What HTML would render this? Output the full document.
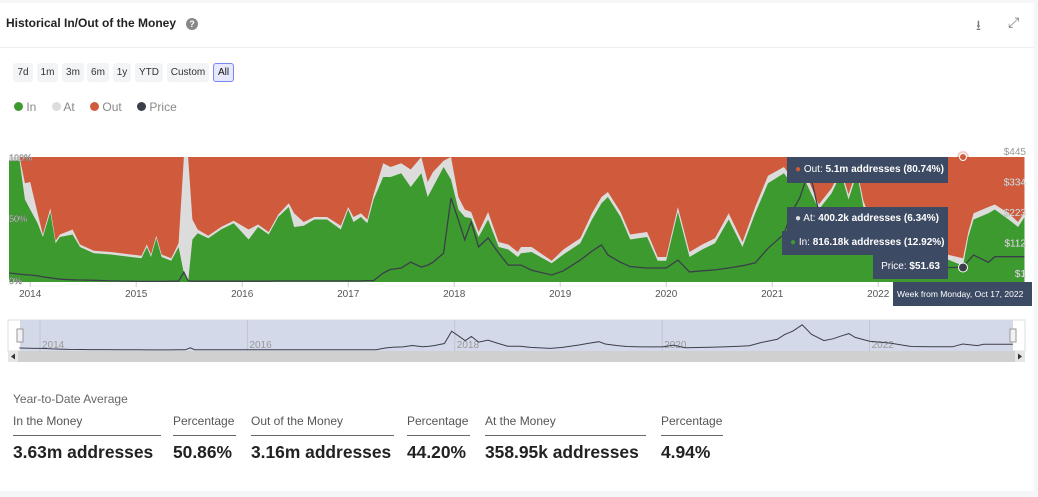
<!DOCTYPE html>
<html><head><meta charset="utf-8"><style>
*{box-sizing:border-box;margin:0;padding:0}
body{width:1038px;height:497px;background:#f5f6f8;font-family:"Liberation Sans",sans-serif;position:relative;overflow:hidden}
#card{position:absolute;left:0;top:3px;width:1034px;height:488px;background:#fff}
.abs{position:absolute}
.btn{position:absolute;top:63px;height:19px;background:#f3f4f6;border-radius:3px;font-size:10px;color:#333;text-align:center;line-height:19px}
.lab{position:absolute;top:414px;font-size:12px;color:#555;border-bottom:1px solid #666;height:22px}
.val{position:absolute;top:442px;font-size:17.4px;font-weight:bold;color:#222}
.tt{position:absolute;background:#3d4a63;color:#fff;font-size:10px;padding:0 8px;line-height:24px;white-space:nowrap}
</style></head><body>
<div id="card"></div>
<div class="abs" style="left:6px;top:16px;font-size:12px;font-weight:bold;color:#222">Historical In/Out of the Money</div>
<div class="abs" style="left:186px;top:18px;width:12px;height:12px;border-radius:50%;background:#888;color:#fff;font-size:9px;font-weight:bold;text-align:center;line-height:12px">?</div>
<div class="abs" style="left:976px;top:15px;font-size:14px;color:#777">&#x2B73;</div>
<div class="abs" style="left:1008px;top:14px;font-size:14px;color:#777">&#x2922;</div>
<div class="abs" style="left:0;top:47px;width:1034px;height:1px;background:#eceef1"></div>
<div class="btn" style="left:13px;width:20px">7d</div>
<div class="btn" style="left:37px;width:21px">1m</div>
<div class="btn" style="left:62px;width:22px">3m</div>
<div class="btn" style="left:87px;width:22px">6m</div>
<div class="btn" style="left:113px;width:18px">1y</div>
<div class="btn" style="left:135px;width:28px">YTD</div>
<div class="btn" style="left:167px;width:42px">Custom</div>
<div class="btn" style="left:213px;width:21px;background:#e6e9fb;border:1px solid #7b86f0;line-height:17px;color:#111">All</div>
<div class="abs" style="left:14px;top:100px;font-size:12px;color:#888;white-space:nowrap">
<span><span style="display:inline-block;width:9px;height:9px;border-radius:50%;background:#3c9a2f"></span> In</span>
<span style="margin-left:12px"><span style="display:inline-block;width:9px;height:9px;border-radius:50%;background:#ddd"></span> At</span>
<span style="margin-left:12px"><span style="display:inline-block;width:9px;height:9px;border-radius:50%;background:#d05a3c"></span> Out</span>
<span style="margin-left:12px"><span style="display:inline-block;width:9px;height:9px;border-radius:50%;background:#3b3f4a"></span> Price</span>
</div>
<svg id="chart" class="abs" style="left:0;top:0" width="1038" height="370"></svg>
<div class="tt" style="left:787px;top:157px;width:161px;height:26px;line-height:26px"><span style="color:#d05a3c">●</span> Out: <b>5.1m addresses (80.74%)</b></div>
<div class="tt" style="left:787px;top:207px;width:161px"><span style="color:#ddd">●</span> At: <b>400.2k addresses (6.34%)</b></div>
<div class="tt" style="left:782px;top:231px;width:166px"><span style="color:#3c9a2f">●</span> In: <b>816.18k addresses (12.92%)</b></div>
<div class="tt" style="left:873px;top:255px;width:75px;text-align:right">Price: <b>$51.63</b></div>
<div class="tt" style="left:893px;top:282px;width:139px;font-size:8.5px;padding:0 4px">Week from Monday, Oct 17, 2022</div>
<div class="abs" style="left:13px;top:392px;font-size:12px;color:#666">Year-to-Date Average</div>
<div class="lab" style="left:13px;width:148px">In the Money</div>
<div class="lab" style="left:173px;width:63px">Percentage</div>
<div class="lab" style="left:251px;width:143px">Out of the Money</div>
<div class="lab" style="left:407px;width:63px">Percentage</div>
<div class="lab" style="left:485px;width:161px">At the Money</div>
<div class="lab" style="left:661px;width:62px">Percentage</div>
<div class="val" style="left:13px">3.63m addresses</div>
<div class="val" style="left:173px">50.86%</div>
<div class="val" style="left:251px">3.16m addresses</div>
<div class="val" style="left:407px">44.20%</div>
<div class="val" style="left:485px">358.95k addresses</div>
<div class="val" style="left:661px">4.94%</div>
<script>
const dates=[2013.8,2013.9,2013.95,2014.0,2014.07,2014.12,2014.19,2014.24,2014.28,2014.4,2014.47,2014.6,2014.76,2014.95,2015.05,2015.1,2015.14,2015.19,2015.24,2015.33,2015.4,2015.45,2015.49,2015.53,2015.58,2015.68,2015.8,2015.92,2016.06,2016.15,2016.25,2016.34,2016.44,2016.49,2016.58,2016.68,2016.8,2016.93,2017.0,2017.05,2017.12,2017.18,2017.24,2017.33,2017.4,2017.5,2017.59,2017.69,2017.75,2017.8,2017.9,2017.97,2018.04,2018.1,2018.16,2018.23,2018.32,2018.42,2018.51,2018.6,2018.63,2018.73,2018.92,2019.03,2019.19,2019.3,2019.39,2019.45,2019.57,2019.66,2019.82,2019.92,2020.0,2020.11,2020.22,2020.34,2020.46,2020.59,2020.72,2020.84,2020.96,2021.11,2021.18,2021.26,2021.35,2021.44,2021.56,2021.65,2021.72,2021.8,2021.86,2022.0,2022.2,2022.4,2022.6,2022.8,2022.85,2022.9,2023.04,2023.1,2023.23,2023.32,2023.38];
const inPct=[97,97,66,58,47,36,56,31,36,38,28,23,22,20,19,28,20,35,20,17,28,7,0,34,39,35,42,47,34,44,38,52,60,44,45,50,50,42,58,48,52,47,66,84,84,87,76,87,68,76,92,82,58,52,51,36,50,28,26,20,23,24,15,22,31,50,63,68,52,34,36,17,17,56,20,26,31,50,28,55,79,87,79,90,74,58,71,87,66,87,60,30,25,22,20,13,36,50,55,58,50,44,52];
const totPct=[100,100,79,80,55,38,59,33,38,42,30,25,24,22,21,30,22,37,22,19,31,100,100,50,42,37,44,49,42,46,40,54,63,55,48,52,52,45,60,52,55,50,70,95,92,95,90,100,80,88,97,100,68,58,56,40,56,32,30,24,28,28,17,26,35,55,68,72,56,38,40,20,20,60,24,30,35,55,32,60,85,92,84,95,80,62,75,90,70,90,65,33,28,25,23,19,40,55,60,62,55,48,56];
const price=[32,28,26,25,22,18,15,12,10,8,7,6,4,3,2,2,2,2,2,3,3,35,4,3,3,3,3,3,3,3,3,4,4,4,4,4,4,4,4,4,4,5,5,32,45,50,71,53,60,70,103,299,220,150,214,125,157,103,60,60,60,42,25,40,78,110,132,96,70,55,50,50,50,78,36,40,43,50,58,68,120,170,245,300,400,250,150,180,220,260,200,140,110,55,51.63,51.63,75,96,70,90,90,90,90];
const yTicks=["$445","$334","$223","$112","$1"];
const xYears=[2014,2015,2016,2017,2018,2019,2020,2021,2022];
const navYears=[2014,2016,2018,2020,2022];
const pMax=445;
const X=t=>9+(t-2013.8)*106, Yp=v=>282-v/100*125, Ypr=v=>282-v/pMax*125;
const NX=t=>40+(t-2014)*103.7, NY=v=>350-v/pMax*28;
const svg=document.getElementById('chart'),NS='http://www.w3.org/2000/svg';
function mk(tag,attrs,name,inter){const e=document.createElementNS(NS,tag);for(const k in attrs)e.setAttribute(k,attrs[k]);


svg.appendChild(e);return e;}
const x0=X(dates[0]),x1=X(dates[dates.length-1]);
mk('rect',{x:x0,y:157,width:x1-x0,height:125,fill:'#d05a3c'},'out-area','false');
const area=(arr)=>'M'+x0+',282 '+dates.map((d,i)=>'L'+X(d).toFixed(1)+','+Yp(arr[i]).toFixed(1)).join(' ')+' L'+x1+',282Z';
mk('path',{d:area(totPct),fill:'#dcdcdc'},'at-area','false');
mk('path',{d:area(inPct),fill:'#3c9a2f'},'in-area','false');
mk('path',{d:dates.map((d,i)=>(i?'L':'M')+X(d).toFixed(1)+','+Ypr(price[i]).toFixed(1)).join(' '),fill:'none',stroke:'#3b3f4a','stroke-width':1.3},'price-line','false');
[['100%',161],['50%',222],['0%',284]].forEach(a=>{const t=mk('text',{x:9,y:a[1],'font-size':9,fill:'#fff',stroke:'#777','stroke-width':0.4},'y-left-tick','false');t.textContent=a[0];});
yTicks.forEach((s,i)=>{const t=mk('text',{x:1026,y:155+i*30.5,'font-size':10,fill:i?'#fff':'#999','text-anchor':'end',stroke:i?'#999':'none','stroke-width':0.3},'y-right-tick','false');t.textContent=s;});
xYears.forEach(y=>{mk('line',{x1:X(y),x2:X(y),y1:282,y2:287,stroke:'#ccc'},'x-tick','false');const t=mk('text',{x:X(y),y:297,'font-size':10,fill:'#555','text-anchor':'middle'},'x-tick-label','false');t.textContent=y;});
mk('circle',{cx:X(2022.8),cy:157,r:6,fill:'rgba(208,90,60,0.3)'},'out-marker-halo','false');
mk('circle',{cx:X(2022.8),cy:157,r:3.5,fill:'#d05a3c',stroke:'#fff'},'out-marker','false');
mk('circle',{cx:X(2022.8),cy:Ypr(51.63),r:4.5,fill:'#3b3f4a',stroke:'#fff'},'price-marker','false');
mk('rect',{x:8,y:320,width:1017,height:31,fill:'#fff',stroke:'#ddd'},'navigator','true');
mk('rect',{x:20,y:320,width:993,height:31,fill:'#d4d9ea'},'navigator-selection','true');
navYears.forEach(y=>{mk('line',{x1:NX(y),x2:NX(y),y1:320,y2:351,stroke:'#c0c5d6'},'nav-grid','false');const t=mk('text',{x:NX(y)+2,y:348,'font-size':10,fill:'#999'},'nav-year-label','false');t.textContent=y;});
mk('path',{d:dates.map((d,i)=>(i?'L':'M')+NX(d).toFixed(1)+','+NY(price[i]).toFixed(1)).join(' '),fill:'none',stroke:'#3b3f4a','stroke-width':1},'nav-price-line','false');
mk('rect',{x:17,y:329,width:6,height:13,fill:'#f2f2f2',stroke:'#999'},'nav-handle-left','true');
mk('rect',{x:1010,y:329,width:6,height:13,fill:'#f2f2f2',stroke:'#999'},'nav-handle-right','true');
mk('rect',{x:8,y:351,width:1017,height:11,fill:'#d0d0d0'},'scrollbar','true');
mk('rect',{x:8,y:351,width:10,height:11,fill:'#e6e6e6'},'scroll-left','true');
mk('rect',{x:1015,y:351,width:10,height:11,fill:'#e6e6e6'},'scroll-right','true');
mk('path',{d:'M15,353.5 L11,356.5 L15,359.5Z',fill:'#333'},'scroll-left-arrow','false');
mk('path',{d:'M1018,353.5 L1022,356.5 L1018,359.5Z',fill:'#333'},'scroll-right-arrow','false');
</script>
</body></html>
